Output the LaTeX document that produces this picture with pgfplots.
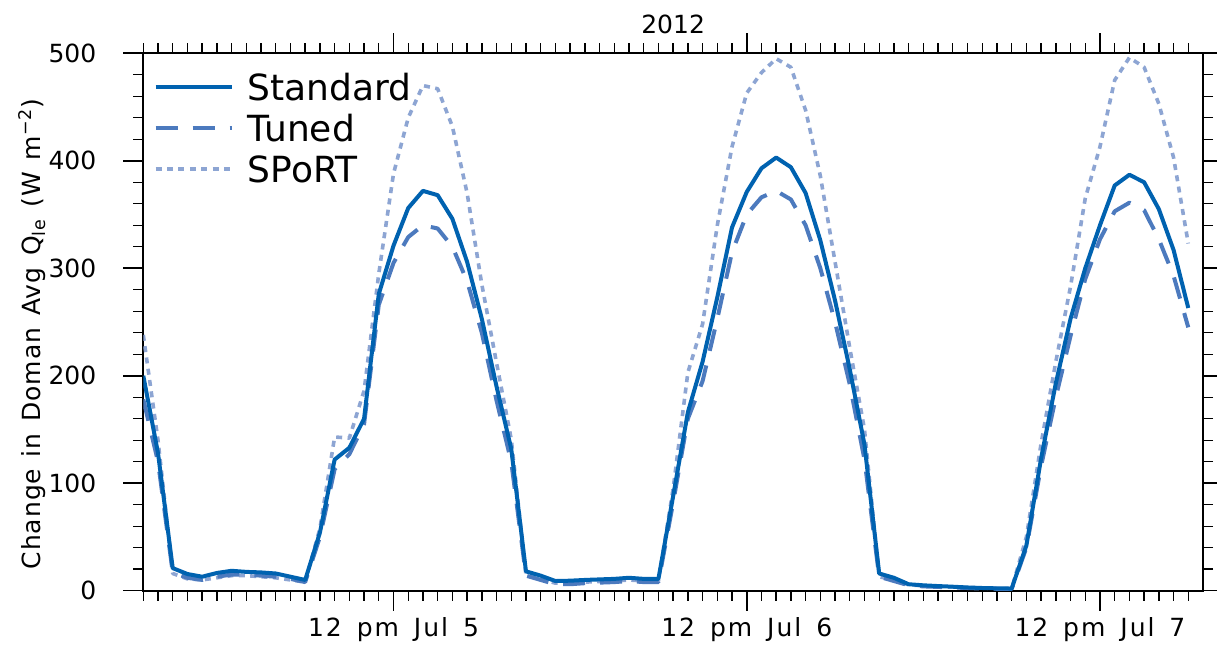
\documentclass[border=0pt]{standalone}
\usepackage{fontspec}
\setmainfont{DejaVu Sans}
\newfontfamily\xfont[LetterSpace=8, WordSpace=1.5]{DejaVu Sans}
\newfontfamily\yfont[LetterSpace=4, WordSpace=1.3]{DejaVu Sans}
\usepackage{pgfplots}
\usepackage{pgfplotstable}
\pgfplotsset{compat=1.18}
\definecolor{cstd}{RGB}{0,98,176}
\definecolor{ctun}{RGB}{76,122,190}
\definecolor{cspo}{RGB}{141,165,211}

\pgfplotstableread{
h   std   tun   spo
-5  200   178   238
-4  128   120   140
-3  21    17    16
-2  15.5  12    11
-1  13    10    10
0   16.5  13    12
1   18.5  15    14
2   17.5  15    14
3   17    14    13
4   16    13    12
5   13    11    10
6   10    8     8
7   54    50    58
8   122   113   143
9   133   127   142
10  160   155   186
11  276   266   295
12  321   305   388
13  356   329   440
14  372   340   470
15  368   337   467
16  346   320   432
17  306   288   370
18  253   240   285
19  190   177   212
20  132   120   141
21  18    14    15
22  14    10    11
23  9     6     7
24  9.3   6     7
25  10    7     8
26  10.5  7.5   8.5
27  11    8     9
28  12    9     10
29  11    8     9
30  11    8     9
31  88    82    95
32  166   160   203
33  213   195   248
34  273   253   340
35  338   315   413
36  371   350   463
37  393   366   482
38  403   372   495
39  394   364   487
40  370   340   447
41  326   300   386
42  270   250   306
43  206   192   226
44  136   122   150
45  16    13    13
46  12    9     10
47  6     5     5.5
48  5     4     4.5
49  4.3   3.5   4
50  3.7   3     3.5
51  3     2.5   3
52  2.5   2     2.5
53  2.2   1.8   2
54  2     1.6   1.8
55  42    40    50
56  123   116   137
57  193   180   213
58  253   237   283
59  300   290   365
60  340   327   413
61  377   353   475
62  387   361   496
63  380   354   487
64  355   327   453
65  317   293   403
66  263   245   323
}\datatable

\begin{document}
\begin{tikzpicture}
\useasboundingbox (-71.65pt,-33.65pt) rectangle (536.85pt,295.35pt);
\begin{axis}[
  at={(0pt,0pt)}, anchor=south west,
  scale only axis, width=529.85pt, height=268.7pt,
  xmin=-5, xmax=67, ymin=0, ymax=500,
  xtick={12,36,60},
  xticklabels={12 pm Jul 5, 12 pm Jul 6, 12 pm Jul 7},
  minor xtick={-5,...,66},
  ytick={0,100,...,500},
  minor y tick num=4,
  tick align=outside,
  major tick length=10pt, minor tick length=5pt,
  xticklabel pos=lower, yticklabel pos=left,
  axis line style={line width=1pt},
  major tick style={line width=0.8pt, black},
  minor tick style={line width=0.7pt, black},
  tick label style={font=\fontsize{12.5}{14}\selectfont},
  xticklabel style={font=\xfont\fontsize{12.5}{14}\selectfont},
  yticklabel shift=8pt,
  yticklabel style={xshift=-2pt},
  /pgf/number format/assume math mode=true,
  ylabel={Change in Doman Avg Q\textsubscript{le} (W m\textsuperscript{−2})},
  ylabel style={font=\yfont\fontsize{12.5}{14}\selectfont, xshift=-6pt},
  ylabel shift=-5.5pt,
  title={2012},
  title style={font=\fontsize{12.5}{14}\selectfont},
  legend cell align=left,
  reverse legend,
  legend image code/.code={\draw[#1] (0pt,0pt) -- (38pt,0pt); \path (44pt,0pt);},
  legend style={draw=none, fill=none, at={(rel axis cs:0,1)}, anchor=north west,
    xshift=2pt, yshift=-7pt, font=\fontsize{18}{20}\selectfont, row sep=5pt,
    nodes={inner sep=1pt, text height=13.5pt, text depth=0pt}},
]
\addplot[cspo, line width=1.8pt, dash pattern=on 3pt off 2.7pt, line join=round] table[x=h, y=spo] {\datatable};
\addlegendentry{SPoRT}
\addplot[ctun, line width=2pt, dash pattern=on 11pt off 7.5pt, line join=round] table[x=h, y=tun] {\datatable};
\addlegendentry{Tuned}
\addplot[cstd, line width=2pt, line join=round] table[x=h, y=std] {\datatable};
\addlegendentry{Standard}
\end{axis}
\end{tikzpicture}
\end{document}
